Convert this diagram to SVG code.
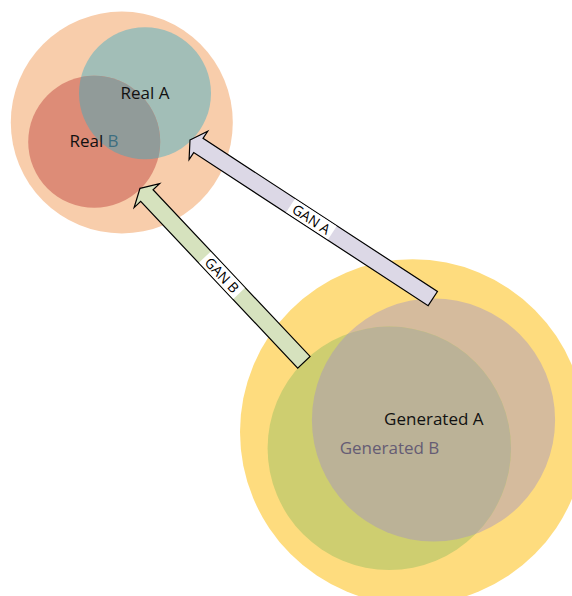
<svg xmlns="http://www.w3.org/2000/svg" width="572" height="596" viewBox="0 0 572 596">
<defs>
<style>
.lbl{font-family:"Open Sans","Noto Sans","Liberation Sans",sans-serif;font-size:17px;text-anchor:middle}
.gan{font-family:"Open Sans","Noto Sans","Liberation Sans",sans-serif;font-size:14px;text-anchor:middle;fill:#000}
.arrow{stroke:#000;stroke-width:1.2;stroke-linejoin:miter}
</style>
<clipPath id="clipRealA"><circle cx="145" cy="93.3" r="66"/></clipPath>
<clipPath id="clipGenA"><circle cx="433.5" cy="420" r="121.6"/></clipPath>
</defs>
<rect width="572" height="596" fill="#ffffff"/>

<g id="real">
<circle cx="121.8" cy="122.5" r="111" fill="#F8CDAB"/>
<g id="realA"><circle cx="145" cy="93.3" r="66" fill="#A2BEB7"/></g>
<g id="realB"><circle cx="94.2" cy="141.8" r="66" fill="#DD8C77"/>
<circle cx="94.2" cy="141.8" r="66" fill="#919B99" clip-path="url(#clipRealA)"/></g>
<text class="lbl" x="145" y="99" fill="#111">Real A</text>
<text class="lbl" x="94" y="147" fill="#111">Real <tspan fill="#3D6E80">B</tspan></text>
</g>

<g id="generated">
<circle cx="412.7" cy="432" r="172.7" fill="#FEDC7E"/>
<g id="genA"><circle cx="433.5" cy="420" r="121.6" fill="#D5BB9D"/></g>
<g id="genB"><circle cx="389.3" cy="448.3" r="121.7" fill="#CECE70"/>
<circle cx="389.3" cy="448.3" r="121.7" fill="#BBB297" clip-path="url(#clipGenA)"/></g>
<text class="lbl" x="433.8" y="425" fill="#111">Generated A</text>
<text class="lbl" x="389.5" y="454" fill="#655C74">Generated B</text>
</g>

<g id="connectors">
<g id="ganA" transform="translate(190,140) rotate(33.15)">
<path class="arrow" fill="#DCD8E6" d="M0,0 L10,-17 L10,-8.5 L290,-8.5 L290,8.5 L10,8.5 L10,17 Z"/>
<rect x="120" y="-7.9" width="50" height="15.8" fill="#ffffff"/>
<text class="gan" x="145" y="5">GAN A</text>
</g>
<g id="ganB" transform="translate(140,188.3) rotate(46.7)">
<path class="arrow" fill="#D6E2BE" d="M0,0 L10,-17.5 L10,-8.5 L239,-8.5 L239,8.5 L10,8.5 L10,17.5 Z"/>
<rect x="94.5" y="-7.9" width="50" height="15.8" fill="#ffffff"/>
<text class="gan" x="119.5" y="5">GAN B</text>
</g>
</g>
</svg>
